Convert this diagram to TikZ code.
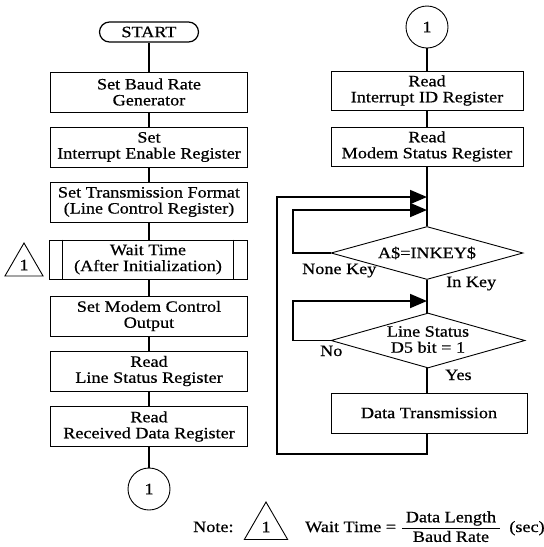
\documentclass[tikz,border=0pt]{standalone}
\usepackage{fontspec}
\setmainfont[FakeStretch=1.15,FakeBold=0.6]{Liberation Serif}
\usetikzlibrary{shapes.geometric,arrows.meta}
\newcommand{\fsz}{\fontsize{15.8}{16}\selectfont}
\begin{document}
\begin{tikzpicture}[x=1pt,y=-1pt,
  every node/.style={font=\fsz},
  proc/.style={draw, line width=0.9pt, inner sep=0pt, align=center, minimum height=40pt},
  lbox/.style={proc, minimum width=197pt},
  rbox/.style={proc, minimum width=192pt},
  term/.style={draw, line width=1.2pt, rounded corners=10pt, minimum width=99pt, minimum height=20pt, inner sep=0pt},
  conn/.style={line width=1.8pt},
  dec/.style={draw, diamond, line width=0.9pt, inner sep=0pt, minimum width=192pt},
  tri/.style={draw, regular polygon, regular polygon sides=3, line width=0.9pt, inner sep=0pt},
  circ/.style={draw, circle, line width=0.9pt, minimum size=42pt, inner sep=0pt},
  arr/.style={-{Triangle[length=17pt,width=14pt]}},
  lbl/.style={anchor=base west, inner sep=0pt}
]
\useasboundingbox (0,0) rectangle (544,547);

% ---------- left column ----------
\node[term] (start) at (149,32) {START};
\node[lbox] (b1) at (149,92) {Set Baud Rate\\Generator};
\node[lbox] (b2) at (149,147) {Set\\Interrupt Enable Register};
\node[lbox] (b3) at (149,202) {Set Transmission Format\\(Line Control Register)};
\node[lbox, minimum width=198pt, minimum height=39pt] (b4) at (148,259.5) {Wait Time\\(After Initialization)};
\draw[line width=1.4pt] ([xshift=14pt]b4.north west) -- ([xshift=14pt]b4.south west);
\draw[line width=1.4pt] ([xshift=-14pt]b4.north east) -- ([xshift=-14pt]b4.south east);
\node[tri, minimum size=44pt] (t1) at (24,265) {1};
\node[lbox] (b5) at (149,316) {Set Modem Control\\Output};
\node[lbox] (b6) at (149,371) {Read\\Line Status Register};
\node[lbox] (b7) at (149,426.5) {Read\\Received Data Register};
\node[circ] (c1) at (149,489) {1};

\draw[conn] (start) -- (b1);
\draw[conn] (b1) -- (b2);
\draw[conn] (b2) -- (b3);
\draw[conn] (b3.south) -- (b3.south |- b4.north);
\draw[conn] (b5.north |- b4.south) -- (b5.north);
\draw[conn] (b5) -- (b6);
\draw[conn] (b6) -- (b7);
\draw[conn] (b7) -- (c1);

% ---------- right column ----------
\node[circ] (c2) at (427,27) {1};
\node[rbox, minimum height=39pt] (iid) at (427,90.5) {Read\\Interrupt ID Register};
\node[rbox, minimum height=39pt] (ms) at (427,146.5) {Read\\Modem Status Register};
\node[dec, minimum height=53pt] (d1) at (427,253) {};
\node at (d1) {A\$=INKEY\$};
\node[dec, minimum width=194pt, minimum height=55pt] (d2) at (428,340.5) {};
\node[align=center, inner sep=0pt] at ([yshift=1pt]d2.center) {Line Status\\D5 bit = 1};
\node[rbox, minimum width=196pt] (dt) at (429,413) {Data Transmission};

\coordinate (j1) at (427,197);
\coordinate (k1) at (277,197);
\coordinate (k0) at (277,454);
\coordinate (j2) at (427,210);
\coordinate (k2) at (293,210);
\coordinate (j3) at (427,301);
\coordinate (k3) at (293,301);

\draw[conn] (c2) -- (iid);
\draw[conn] (iid) -- (ms);
\draw[conn] (ms.south) -- (ms.south |- d1.north);
\draw[conn] (d1.south) -- (d1.south |- d2.north);
\draw[conn] (j3 |- d2.south) -- (j3 |- dt.north);
\draw[conn, arr] (d1.west) -| (k2) -- (j2);
\draw[conn, arr] (d2.west) -| (k3) -- (j3);
\draw[conn, arr] (j3 |- dt.south) -- (j3 |- k0) -- (k0) -- (k1) -- (j1);

\node[lbl] (nk) at (302,274) {None Key};
\node[lbl] (ik) at (446,287) {In Key};
\node[lbl] (no) at (320,356) {No};
\node[lbl] (yes) at (445,380) {Yes};

% ---------- note ----------
\node[lbl] (note) at (193,532) {Note:};
\node[tri, minimum size=50pt] (t2) at (266,527) {1};
\node[lbl] (wt) at (305,532) {Wait Time = $\displaystyle\frac{\hbox{\kern4pt Data Length\kern4pt}}{\hbox{Baud Rate}}$\hspace{8pt}(sec)};
\end{tikzpicture}
\end{document}
